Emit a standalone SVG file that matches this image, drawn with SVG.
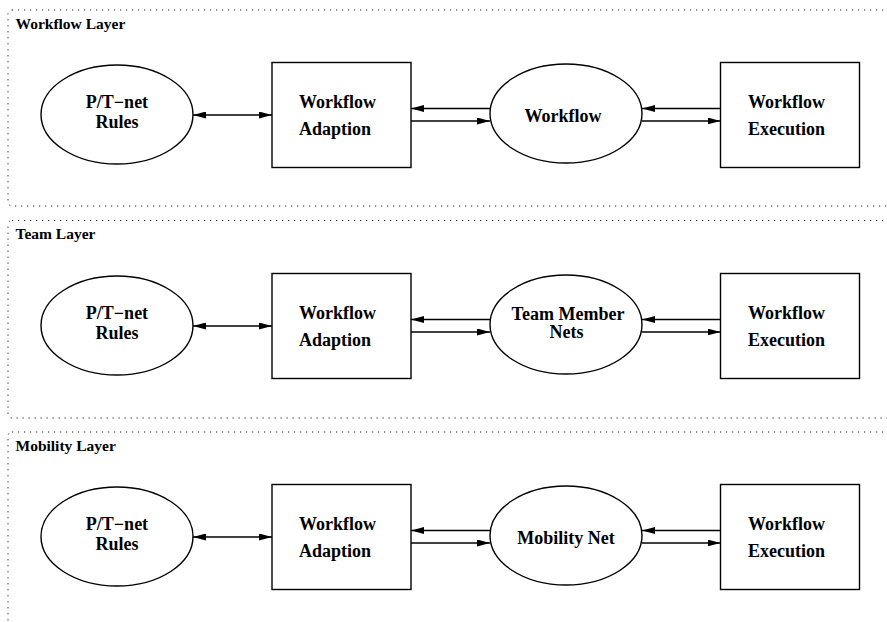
<svg xmlns="http://www.w3.org/2000/svg" width="887" height="622" viewBox="0 0 887 622">
<style>
.layer{fill:none;stroke:#222;stroke-width:1;stroke-dasharray:1.2 4.8}
.node{fill:#fff;stroke:#000;stroke-width:1.4}
.ar{stroke:#000;stroke-width:1.4;fill:none;marker-end:url(#ah)}
.dbl{stroke:#000;stroke-width:1.4;fill:none;marker-end:url(#ah);marker-start:url(#ah)}
</style>
<defs>
<marker id="ah" markerUnits="userSpaceOnUse" markerWidth="13" markerHeight="7" refX="13" refY="3.5" orient="auto-start-reverse">
<path d="M0,0 L13,3.5 L0,7 z" fill="#000"/>
</marker>
</defs>
<rect width="887" height="622" fill="#fff"/>
<g font-family="Liberation Serif" font-weight="bold" fill="#000">
<g id="layers" font-size="15.5">
<g id="workflow-layer"><rect class="layer" x="8" y="10" width="900" height="196" rx="4"/><text x="15.5" y="28.5">Workflow Layer</text></g>
<g id="team-layer"><rect class="layer" x="8" y="220.5" width="900" height="197.5" rx="4"/><text x="15.5" y="238.5">Team Layer</text></g>
<g id="mobility-layer"><rect class="layer" x="8" y="432" width="900" height="300" rx="4"/><text x="15.5" y="451">Mobility Layer</text></g>
</g>
<g id="connectors">
<line class="dbl" x1="193" y1="115" x2="272" y2="115"/>
<line class="ar" x1="490" y1="108.5" x2="411" y2="108.5"/>
<line class="ar" x1="411" y1="121" x2="490" y2="121"/>
<line class="ar" x1="720.5" y1="108.5" x2="642" y2="108.5"/>
<line class="ar" x1="642" y1="121" x2="720.5" y2="121"/>
<line class="dbl" x1="193" y1="326" x2="272" y2="326"/>
<line class="ar" x1="490" y1="319.5" x2="411" y2="319.5"/>
<line class="ar" x1="411" y1="332" x2="490" y2="332"/>
<line class="ar" x1="720.5" y1="319.5" x2="642" y2="319.5"/>
<line class="ar" x1="642" y1="332" x2="720.5" y2="332"/>
<line class="dbl" x1="193" y1="537" x2="272" y2="537"/>
<line class="ar" x1="490" y1="530.5" x2="411" y2="530.5"/>
<line class="ar" x1="411" y1="543" x2="490" y2="543"/>
<line class="ar" x1="720.5" y1="530.5" x2="642" y2="530.5"/>
<line class="ar" x1="642" y1="543" x2="720.5" y2="543"/>
</g>
<g id="nodes" font-size="18">
<g id="wf-rules" text-anchor="middle"><ellipse class="node" cx="117" cy="114.5" rx="76" ry="49.5"/><text x="117" y="108.3">P/T−net</text><text x="117" y="127.7">Rules</text></g>
<g id="wf-adaption"><rect class="node" x="272" y="62.5" width="139" height="105"/><text x="299" y="108.3">Workflow</text><text x="299" y="134.5">Adaption</text></g>
<g id="wf-workflow" text-anchor="middle"><ellipse class="node" cx="566" cy="113.5" rx="76" ry="49.5"/><text x="563" y="121.7">Workflow</text></g>
<g id="wf-execution"><rect class="node" x="720.5" y="62.5" width="139" height="105"/><text x="748" y="108">Workflow</text><text x="748" y="135">Execution</text></g>
<g id="team-rules" text-anchor="middle"><ellipse class="node" cx="117" cy="325.5" rx="76" ry="49.5"/><text x="117" y="319.3">P/T−net</text><text x="117" y="338.7">Rules</text></g>
<g id="team-adaption"><rect class="node" x="272" y="273.5" width="139" height="105"/><text x="299" y="319.3">Workflow</text><text x="299" y="345.5">Adaption</text></g>
<g id="team-nets" text-anchor="middle"><ellipse class="node" cx="566" cy="324.5" rx="76" ry="49.5"/><text x="568" y="320">Team Member</text><text x="566.5" y="338.3">Nets</text></g>
<g id="team-execution"><rect class="node" x="720.5" y="273.5" width="139" height="105"/><text x="748" y="319">Workflow</text><text x="748" y="346">Execution</text></g>
<g id="mob-rules" text-anchor="middle"><ellipse class="node" cx="117" cy="536.5" rx="76" ry="49.5"/><text x="117" y="530.3">P/T−net</text><text x="117" y="549.7">Rules</text></g>
<g id="mob-adaption"><rect class="node" x="272" y="484.5" width="139" height="105"/><text x="299" y="530.3">Workflow</text><text x="299" y="556.5">Adaption</text></g>
<g id="mob-net" text-anchor="middle"><ellipse class="node" cx="566" cy="535.5" rx="76" ry="49.5"/><text x="566" y="544">Mobility Net</text></g>
<g id="mob-execution"><rect class="node" x="720.5" y="484.5" width="139" height="105"/><text x="748" y="530">Workflow</text><text x="748" y="557">Execution</text></g>
</g>
</g>
</svg>
